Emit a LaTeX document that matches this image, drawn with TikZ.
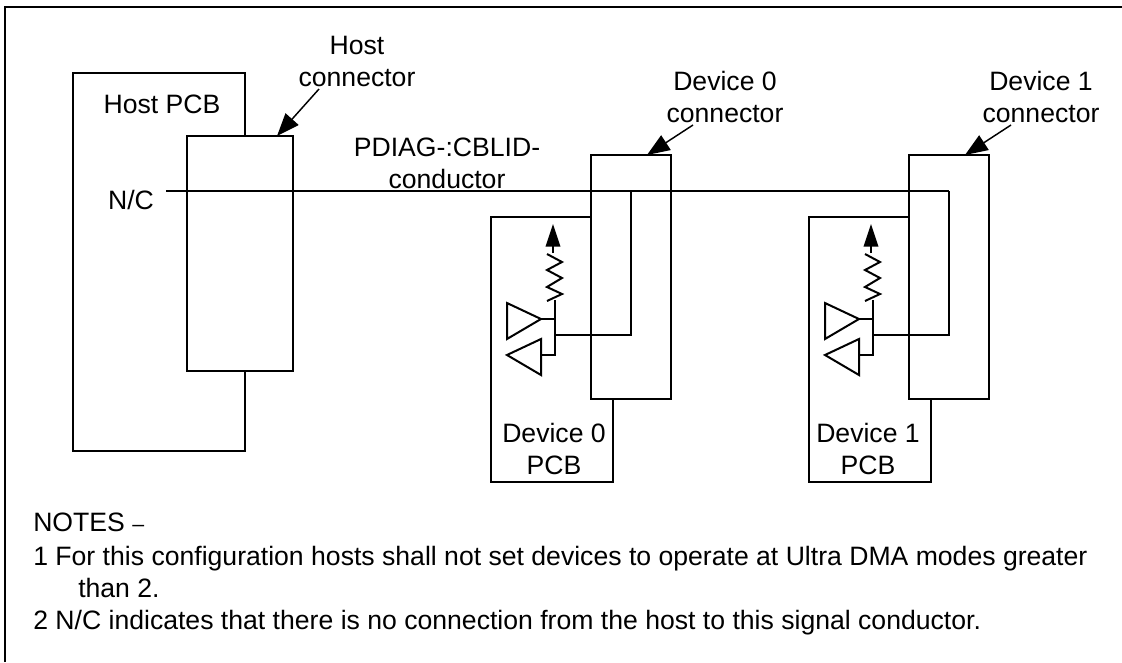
\documentclass[tikz,border=0pt]{standalone}
\usepackage{fontspec}
\setmainfont{Liberation Sans}
\usetikzlibrary{arrows.meta}
\tikzset{
	wire/.style = {draw = black, line width = 1.5pt},
	callout/.style = {draw = black, line width = 1.1pt, -{Triangle[length=17pt, width=13pt]}},
	pullup/.style = {draw = black, line width = 1.1pt, -{Triangle[length=17pt, width=11pt]}},
	boxnode/.style = {wire, anchor = north west, inner sep = 0pt, outer sep = 0pt},
	label/.style = {inner sep = 0pt, align = center, font = \fontsize{19.95}{24}\selectfont},
	notetext/.style = {inner sep = 0pt, anchor = base west, font = \fontsize{19.95}{24}\selectfont}
}
\begin{document}
\begin{tikzpicture}[x = 0.75pt, y = -0.75pt]
		\useasboundingbox (0,0) rectangle (1122,662);
		% frame
		\draw [wire] (5,662) -- (5,6.5) -- (1122,6.5);
		% host side
		\draw [wire] (245,136) -- (245,73) -- (73,73) -- (73,451) -- (245,451) -- (245,371);
		\node [boxnode, minimum width = 79.5pt, minimum height = 176.25pt] (hostconn) at (187,136) {};
		\node [label, anchor = base] (hostpcb) at (162,113) {Host PCB};
		\node [label, anchor = base] (nc) at (131,209) {N/C};
		\node [label] (hostlabel) at (357,61.5) {Host\\connector};
		\coordinate (hosttip) at (277,136);
		\coordinate (hosttail) at (319,89);
		\draw [callout] (hosttail) -- (hosttip);
		\node [label] (pdiag) at (447,163) {PDIAG-:CBLID-\\conductor};
		\coordinate (lineleft) at (166,191);
		% device 0
		\begin{scope}
		\draw [wire] (591,217) -- (491,217) -- (491,482) -- (613,482) -- (613,399);
		\node [boxnode, minimum width = 60pt, minimum height = 183pt] (conn0) at (591,155) {};
		\node [label] (pcb0) at (554,449) {Device 0\\PCB};
		\node [label] (conn0label) at (725,97) {Device 0\\connector};
		\coordinate (tip0) at (647,155);
		\coordinate (tail0) at (693,125);
		\draw [callout] (tail0) -- (tip0);
		\coordinate (top0) at (631,191);
		\coordinate (bot0) at (631,335);
		\coordinate (stub0) at (555,335);
		\draw [wire] (top0) -- (bot0) -- (stub0);
		\draw [wire] (507,303) -- (541,319) -- (507,339) -- cycle;
		\draw [wire] (507,355) -- (541,339) -- (541,375) -- cycle;
		\draw [wire] (541,319) -- (555,319) -- (555,355) -- (541,355);
		\draw [wire] (555,319) -- (555,300);
		\draw [wire] (547,301) -- (562,294) -- (547,287) -- (562,278) -- (547,270) -- (562,262) -- (547,254);
		\coordinate (res0) at (553,253);
		\coordinate (pull0) at (553,224);
		\draw [pullup] (res0) -- (pull0);
		\end{scope}
		% device 1
		\begin{scope}[xshift = 238.5pt]
		\draw [wire] (591,217) -- (491,217) -- (491,482) -- (613,482) -- (613,399);
		\node [boxnode, minimum width = 60pt, minimum height = 183pt] (conn1) at (591,155) {};
		\node [label] (pcb1) at (550,449) {Device 1\\PCB};
		\node [label] (conn1label) at (723,97) {Device 1\\connector};
		\coordinate (tip1) at (647,155);
		\coordinate (tail1) at (693,125);
		\draw [callout] (tail1) -- (tip1);
		\coordinate (top1) at (631,191);
		\coordinate (bot1) at (631,335);
		\coordinate (stub1) at (555,335);
		\draw [wire] (top1) -- (bot1) -- (stub1);
		\draw [wire] (507,303) -- (541,319) -- (507,339) -- cycle;
		\draw [wire] (507,355) -- (541,339) -- (541,375) -- cycle;
		\draw [wire] (541,319) -- (555,319) -- (555,355) -- (541,355);
		\draw [wire] (555,319) -- (555,300);
		\draw [wire] (547,301) -- (562,294) -- (547,287) -- (562,278) -- (547,270) -- (562,262) -- (547,254);
		\coordinate (res1) at (553,253);
		\coordinate (pull1) at (553,224);
		\draw [pullup] (res1) -- (pull1);
		\end{scope}
		\draw [wire] (lineleft) -- (top1);
		% notes
		\node [notetext] (notes) at (33,531) {NOTES {\fontsize{16}{24}\selectfont –}};
		\node [notetext] (note1) at (33,565) {1 For this configuration hosts shall not set devices to operate at Ultra DMA modes greater};
		\node [notetext] (note1b) at (78,597) {than 2.};
		\node [notetext] (note2) at (33,629) {2 N/C indicates that there is no connection from the host to this signal conductor.};
\end{tikzpicture}
\end{document}
